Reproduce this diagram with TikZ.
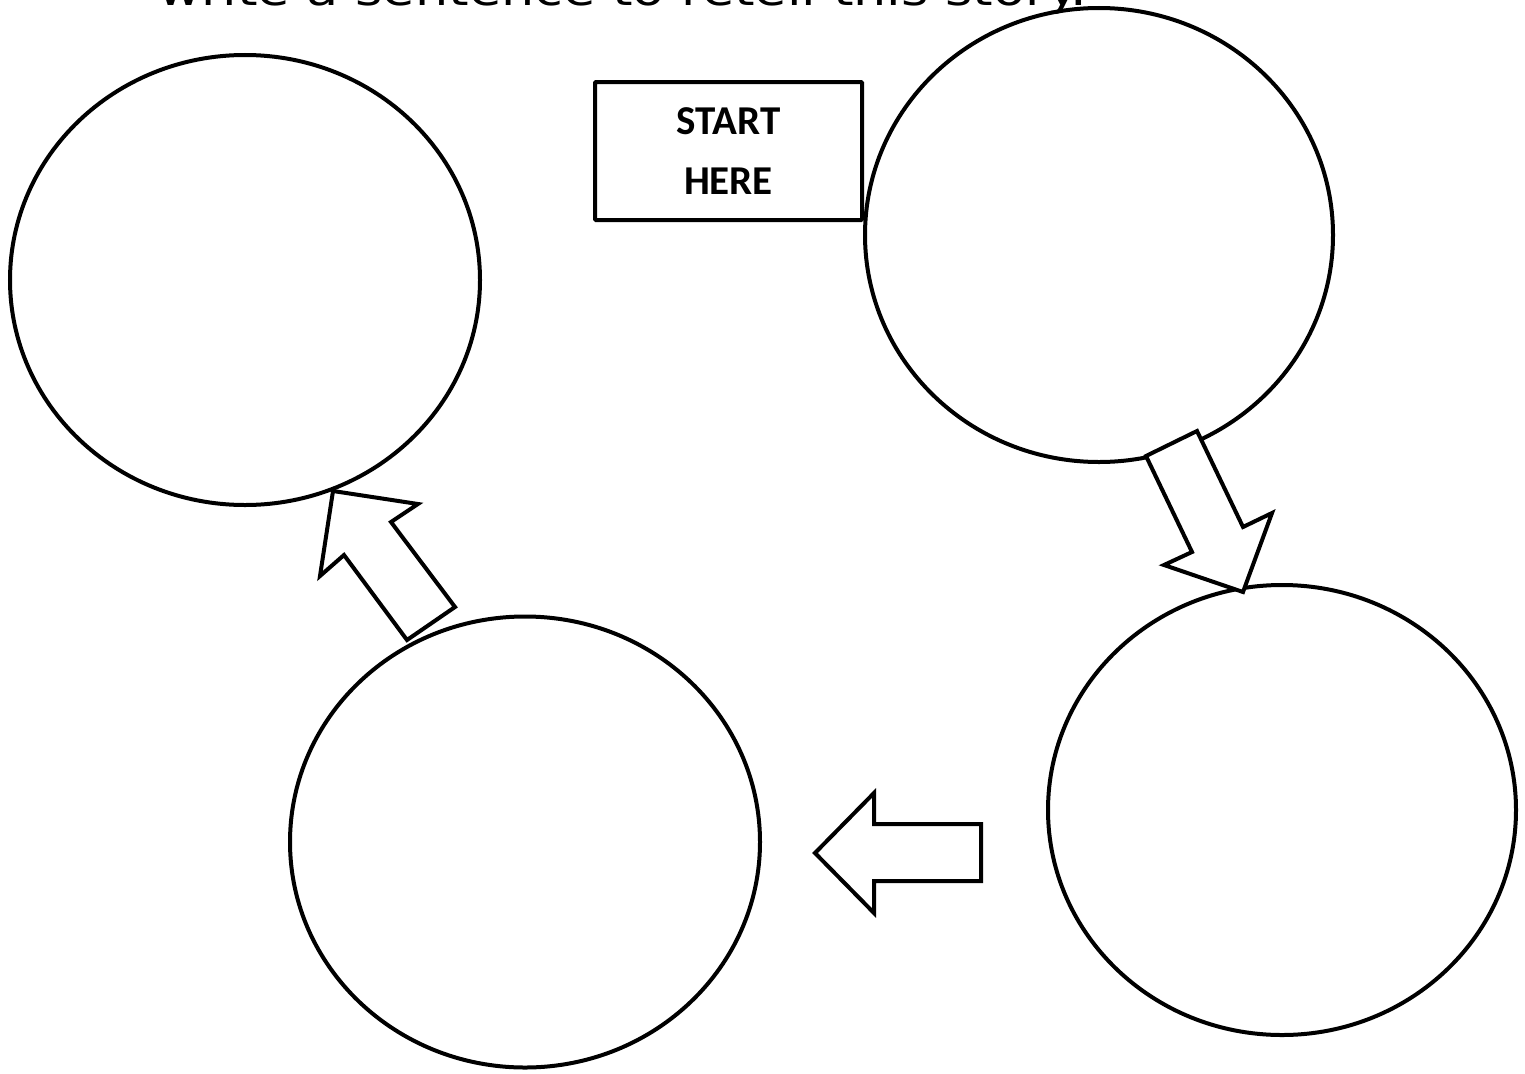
\documentclass[tikz,border=0pt]{standalone}
\usepackage{fontspec}
\setmainfont{Carlito}
\newfontfamily\titlefont{DejaVu Sans}
\usetikzlibrary{shapes.geometric}
\begin{document}
\begin{tikzpicture}[x=1pt,y=-1pt,
  bubble/.style={draw=black,line width=4pt,ellipse,inner sep=0pt},
  blockarrow/.style={draw=black,fill=white,line width=4pt,line join=miter},
  startbox/.style={draw=black,line width=4pt,rounded corners=1pt,minimum width=267pt,minimum height=138pt,align=center,font=\fontsize{41}{60}\selectfont\bfseries}]
\useasboundingbox (0,0) rectangle (1525,1073);
\node[anchor=base west,inner sep=0pt,xscale=1.22,font=\titlefont\fontsize{43}{50}\selectfont] (title) at (158,6) {write a sentence to retell this story.};
\node[bubble,minimum width=470pt,minimum height=450pt] (c1) at (245,280) {};
\node[bubble,minimum width=468pt,minimum height=454pt] (c2) at (1099,235) {};
\node[bubble,minimum width=468pt,minimum height=450pt] (c3) at (1282,810) {};
\node[bubble,minimum width=470pt,minimum height=451pt] (c4) at (525,842) {};
\node[startbox] (start) at (728.5,151) {START\\HERE};
% arrow from c2 to c3
\draw[blockarrow] (1146,456) -- (1197,431) -- (1243,527) -- (1272,513) -- (1243,592) -- (1164,565) -- (1192,552) -- cycle;
% arrow from c3 to c4
\draw[blockarrow] (815,853) -- (874,793) -- (874,824) -- (981,824) -- (981,881) -- (874,881) -- (874,913) -- cycle;
% arrow from c4 to c1
\draw[blockarrow] (333,491) -- (418,504) -- (391,522) -- (455,607) -- (407,640) -- (344,555) -- (320,576) -- cycle;
\end{tikzpicture}
\end{document}
